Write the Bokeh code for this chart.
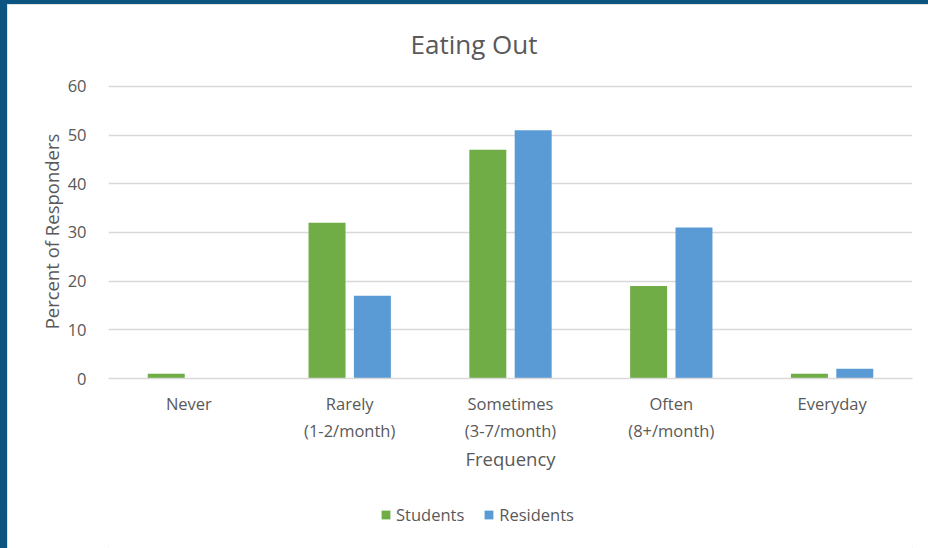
from bokeh.plotting import figure
from bokeh.models import ColumnDataSource, FactorRange, Range1d, Legend, LegendItem, FixedTicker
from bokeh.transform import dodge
from bokeh.layouts import column
from bokeh.embed import file_html
from bokeh.resources import INLINE

categories = ["Never", "Rarely\n(1-2/month)", "Sometimes\n(3-7/month)", "Often\n(8+/month)", "Everyday"]
students = [1, 32, 47, 19, 1]
residents = [0, 17, 51, 31, 2]
y_ticks = [0, 10, 20, 30, 40, 50, 60]
series_names = ["Students", "Residents"]

FONT = "Open Sans"
TXT = "#595959"
GREEN = "#70ad47"
BLUE = "#5b9bd5"
GRID = "#d9d9d9"
FRAME_BLUE = "#0b5580"
TICK_SIZE = "16.5px"
AXIS_SIZE = "18.5px"

src = ColumnDataSource(dict(cat=categories, students=students, residents=residents))

p = figure(x_range=FactorRange(*categories), y_range=Range1d(0, 60.4),
           width=921, height=500, output_backend="svg", toolbar_location=None,
           min_border_left=101, min_border_right=16, min_border_top=80, min_border_bottom=126,
           title="Eating Out")
p.outline_line_color = None
p.background_fill_color = "white"
p.border_fill_color = "white"

r1 = p.vbar(x=dodge("cat", -0.141, range=p.x_range), top="students", width=0.23,
            source=src, fill_color=GREEN, line_color=None)
r2 = p.vbar(x=dodge("cat", 0.141, range=p.x_range), top="residents", width=0.23,
            source=src, fill_color=BLUE, line_color=None)

p.title.text_font = FONT
p.title.text_font_size = "26px"
p.title.text_font_style = "normal"
p.title.text_color = TXT
p.title.align = "left"
p.title.offset = 302
p.title.vertical_align = "top"
p.title.standoff = 41

p.xgrid.grid_line_color = None
p.ygrid.grid_line_color = GRID
p.ygrid.grid_line_width = 1.5
p.yaxis.ticker = FixedTicker(ticks=y_ticks)

p.yaxis.axis_line_color = None
p.yaxis.major_tick_line_color = None
p.yaxis.minor_tick_line_color = None
p.yaxis.major_label_text_font = FONT
p.yaxis.major_label_text_font_size = TICK_SIZE
p.yaxis.major_label_text_color = TXT
p.yaxis.major_label_standoff = 16
p.yaxis.axis_label = "Percent of Responders"
p.yaxis.axis_label_text_font = FONT
p.yaxis.axis_label_text_font_size = AXIS_SIZE
p.yaxis.axis_label_text_font_style = "normal"
p.yaxis.axis_label_text_color = TXT
p.yaxis.axis_label_standoff = 1

p.xaxis.axis_line_color = GRID
p.xaxis.axis_line_width = 1.5
p.xaxis.major_tick_line_color = None
p.xaxis.minor_tick_line_color = None
p.xaxis.major_label_text_font = FONT
p.xaxis.major_label_text_font_size = TICK_SIZE
p.xaxis.major_label_text_color = TXT
p.xaxis.major_label_standoff = 7
p.xaxis.axis_label = "Frequency"
p.xaxis.axis_label_text_font = FONT
p.xaxis.axis_label_text_font_size = AXIS_SIZE
p.xaxis.axis_label_text_font_style = "normal"
p.xaxis.axis_label_text_color = TXT
p.xaxis.axis_label_standoff = 1

# legend strip as a separate small figure
lf = figure(width=921, height=44, x_range=Range1d(0, 1), y_range=Range1d(0, 1),
            output_backend="svg", toolbar_location=None,
            min_border=0, min_border_left=0, min_border_right=0, min_border_top=0, min_border_bottom=0)
lf.axis.visible = False
lf.grid.visible = False
lf.outline_line_color = None
lf.background_fill_color = "white"
lf.border_fill_color = "white"
offview = ColumnDataSource(dict(x=[-10], top=[0]))
lr1 = lf.vbar(x="x", top="top", width=0.1, source=offview, fill_color=GREEN, line_color=None)
lr2 = lf.vbar(x="x", top="top", width=0.1, source=offview, fill_color=BLUE, line_color=None)

legend = Legend(items=[LegendItem(label=series_names[0], renderers=[lr1]),
                       LegendItem(label=series_names[1], renderers=[lr2])],
                orientation="horizontal", location=(272, 22),
                glyph_width=11, glyph_height=11, label_standoff=5, spacing=19,
                padding=0, margin=0, border_line_color=None, background_fill_alpha=0,
                label_text_font=FONT, label_text_font_size=TICK_SIZE, label_text_color=TXT)
lf.add_layout(legend, "center")

layout = column(p, lf, width=928, height=548, spacing=0,
                styles={"background-color": "white",
                        "border-left": "7px solid " + FRAME_BLUE,
                        "border-top": "4px solid " + FRAME_BLUE,
                        "box-shadow": "inset 1px 1px 0 #d9d9d9, inset 0 -2px 0 #d9d9d9"})

open("out.html", "w").write(file_html(layout, INLINE))
